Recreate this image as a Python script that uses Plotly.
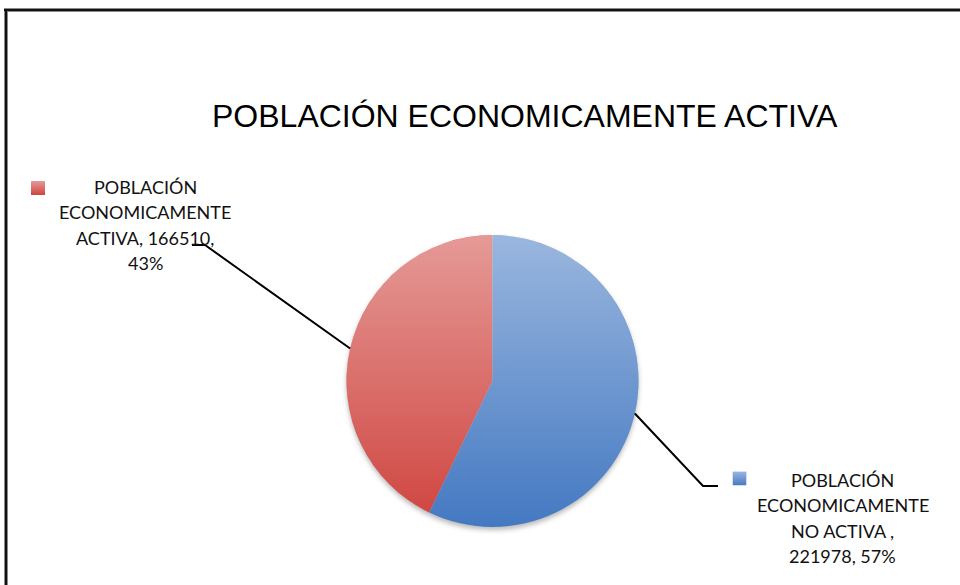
import base64
import math
import plotly.graph_objects as go

W, H = 960, 585

# ---- data ----
title_text = "POBLACIÓN ECONOMICAMENTE ACTIVA"
categories = ["POBLACIÓN ECONOMICAMENTE ACTIVA", "POBLACIÓN ECONOMICAMENTE NO ACTIVA "]
values = [166510, 221978]
colors = ["#cf443f", "#4479c2"]
label_heads = [["POBLACIÓN", "ECONOMICAMENTE", "ACTIVA, {v},", "{p}%"],
               ["POBLACIÓN", "ECONOMICAMENTE", "NO ACTIVA ,", "{v}, {p}%"]]

# ---- geometry (pixels) ----
cx, cy, r = 492.5, 381.0, 146.0
label_centers = [(145.0, 187.0), (842.5, 480.0)]
line_step = 25.3
elbows = [(205.0, 245.0), (703.0, 486.0)]
leader_ends = [(192.0, 245.0), (718.0, 486.0)]
swatches = [(38.0, 188.0), (739.5, 478.5)]
sw = 14.0
top_light = 0.46


def px(x):
    return x / W


def py(y):
    return 1 - y / H


def b64svg(svg):
    return "data:image/svg+xml;base64," + base64.b64encode(svg.encode()).decode()


def gradient_svg(wd, ht, shape, fill_base=None):
    base = f'<rect width="{wd}" height="{ht}" fill="{fill_base}"/>' if fill_base else ""
    return (f'<svg xmlns="http://www.w3.org/2000/svg" width="{wd}" height="{ht}" viewBox="0 0 {wd} {ht}">'
            '<defs><linearGradient id="g" x1="0" y1="0" x2="0" y2="1">'
            f'<stop offset="0" stop-color="#ffffff" stop-opacity="{top_light}"/>'
            '<stop offset="1" stop-color="#ffffff" stop-opacity="0"/>'
            '</linearGradient></defs>' + base + shape.replace("FILL", "url(#g)") + '</svg>')


total = sum(values)
fig = go.Figure()
fig.add_trace(go.Pie(
    labels=categories, values=values, sort=False, direction="clockwise",
    rotation=-360 * values[0] / total, textinfo="none", hoverinfo="label+value+percent",
    marker=dict(colors=colors, line=dict(width=0)),
    domain=dict(x=[px(cx - r), px(cx + r)], y=[py(cy + r), py(cy - r)]),
    showlegend=False,
))

shapes = []
annotations = []
images = []

# top and left frame rules
for w, c in ((4, "#8a8a8a"), (2, "#111111")):
    shapes.append(dict(type="line", xref="paper", yref="paper",
                       x0=px(4), x1=px(W), y0=py(10), y1=py(10), line=dict(color=c, width=w)))
    shapes.append(dict(type="line", xref="paper", yref="paper",
                       x0=px(6), x1=px(6), y0=py(9), y1=py(H), line=dict(color=c, width=w)))

# data labels with leader lines from each slice's mid-angle
cum = 0.0
for i, v in enumerate(values):
    frac = v / total
    mid = (cum + frac / 2) * 2 * math.pi  # counterclockwise from 12 o'clock
    cum += frac
    sx = cx - r * math.sin(mid)
    sy = cy - r * math.cos(mid)
    ex, ey = elbows[i]
    lx, ly = leader_ends[i]
    path = f"M {px(sx)} {py(sy)} L {px(ex)} {py(ey)} L {px(lx)} {py(ly)}"
    shapes.append(dict(type="path", xref="paper", yref="paper", path=path,
                       line=dict(color="#000000", width=2)))
    pct = round(frac * 100)
    tx, ty = label_centers[i]
    for k, line in enumerate(label_heads[i]):
        annotations.append(dict(
            text=line.format(v=v, p=pct), xref="paper", yref="paper",
            x=px(tx), y=py(ty + k * line_step), xanchor="center", yanchor="middle",
            showarrow=False, font=dict(family="Lato, Carlito, sans-serif", size=18, color="#111111"),
        ))
    # legend-key swatch with the same vertical shading
    qx, qy = swatches[i]
    images.append(dict(source=b64svg(gradient_svg(sw, sw, f'<rect width="{sw}" height="{sw}" fill="FILL"/>',
                                                  fill_base=colors[i])),
                       xref="paper", yref="paper", x=px(qx - sw / 2), y=py(qy - sw / 2),
                       sizex=px(sw), sizey=sw / H, xanchor="left", yanchor="top",
                       sizing="stretch", layer="above"))

annotations.append(dict(
    text=title_text, xref="paper", yref="paper", x=px(525), y=py(116),
    xanchor="center", yanchor="middle", showarrow=False,
    font=dict(family="Liberation Sans, Arial, sans-serif", size=32, color="#000000"),
))

# soft drop shadow beneath the pie and vertical shading over it
d = 2 * r
pad = 12
shadow = (f'<svg xmlns="http://www.w3.org/2000/svg" width="{d + 2 * pad}" height="{d + 2 * pad}" '
          f'viewBox="0 0 {d + 2 * pad} {d + 2 * pad}"><defs><filter id="b"><feGaussianBlur stdDeviation="2.5"/></filter></defs>'
          f'<circle cx="{r + pad}" cy="{r + pad + 3}" r="{r}" fill="#000000" fill-opacity="0.28" filter="url(#b)"/></svg>')
images.append(dict(source=b64svg(shadow), xref="paper", yref="paper",
                   x=px(cx - r - pad), y=py(cy - r - pad), sizex=px(d + 2 * pad), sizey=(d + 2 * pad) / H,
                   xanchor="left", yanchor="top", sizing="stretch", layer="below"))
images.append(dict(source=b64svg(gradient_svg(d, d, f'<circle cx="{r}" cy="{r}" r="{r}" fill="FILL"/>')),
                   xref="paper", yref="paper", x=px(cx - r), y=py(cy - r),
                   sizex=px(d), sizey=d / H, xanchor="left", yanchor="top",
                   sizing="stretch", layer="above"))

fig.update_layout(
    width=W, height=H, margin=dict(l=0, r=0, t=0, b=0),
    paper_bgcolor="#ffffff", plot_bgcolor="rgba(0,0,0,0)",
    shapes=shapes, annotations=annotations, images=images, showlegend=False,
)

fig.write_html("out.html")
